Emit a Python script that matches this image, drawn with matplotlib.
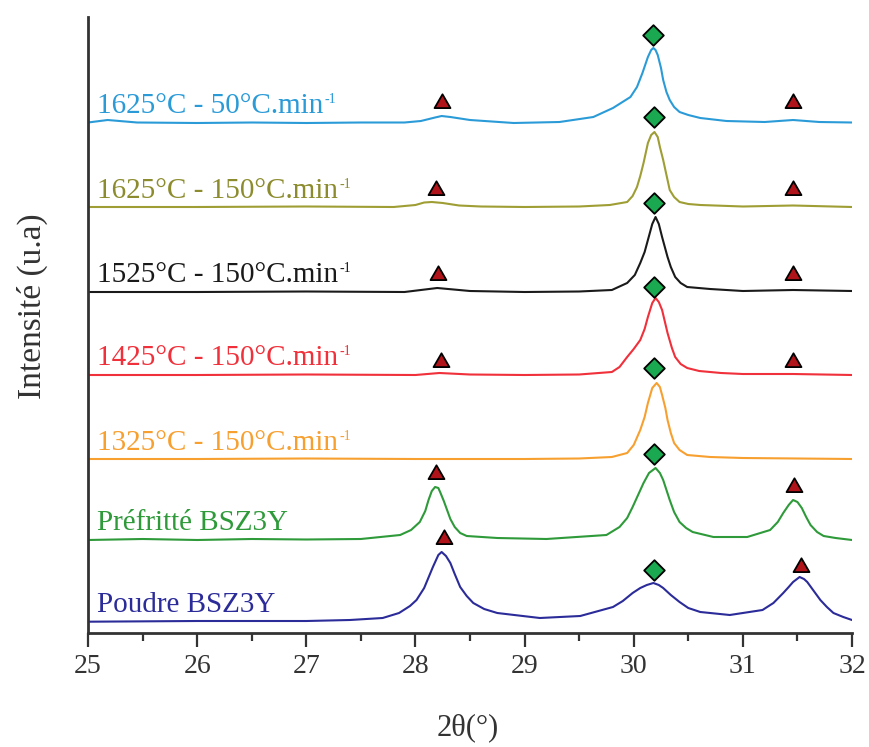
import matplotlib
matplotlib.use("Agg")
import matplotlib.pyplot as plt

plt.rcParams["font.family"] = ["Liberation Serif", "DejaVu Serif"]

# --- data (2theta in deg, intensity in stacked a.u.) ---
blue_x = [25.00, 25.18, 25.45, 26.0, 26.5, 27.0, 27.5, 27.9, 28.05, 28.18, 28.24, 28.32, 28.5, 28.9,
          29.32, 29.63, 29.81, 29.97, 30.03, 30.08, 30.13, 30.16, 30.18, 30.20, 30.22, 30.25, 30.27,
          30.30, 30.33, 30.37, 30.42, 30.50, 30.61, 30.85, 31.2, 31.46, 31.7, 32.0]
blue_y = [510.5, 513, 510.5, 510, 510.5, 510, 510.5, 510.5, 512, 515.5, 517, 516, 513, 510,
          511, 516, 525, 536, 546, 560, 576, 583, 585, 583, 578, 565, 553,
          541, 533, 526, 521, 518, 515, 512, 511, 513, 511, 510.5]

olive_x = [25.0, 26.0, 27.0, 27.8, 28.0, 28.08, 28.15, 28.25, 28.4, 28.6, 29.0, 29.5, 29.78, 29.94,
           29.99, 30.03, 30.06, 30.09, 30.13, 30.16, 30.19, 30.22, 30.24, 30.27, 30.29, 30.33,
           30.37, 30.42, 30.50, 30.61, 31.0, 31.46, 32.0]
olive_y = [426, 426, 426.5, 426, 428, 430.5, 431, 430, 427.5, 426.5, 426, 426.5, 428, 431,
           437, 446, 457, 470, 490, 498, 501, 496, 486, 473, 463, 443,
           436, 431, 429, 428, 426.5, 427.5, 426]

black_x = [25.0, 26.0, 27.0, 27.9, 28.2, 28.5, 29.0, 29.5, 29.8, 29.94, 30.01, 30.06, 30.10, 30.13,
           30.17, 30.20, 30.23, 30.26, 30.31, 30.34, 30.38, 30.43, 30.49, 30.70, 31.0, 31.46, 32.0]
black_y = [341, 341, 341.5, 341, 345, 342, 341, 341.5, 343, 350, 358, 370, 381, 393,
           409, 416, 409, 396, 376, 366, 356, 350, 346, 344, 342, 343, 342]

red_x = [25.0, 26.0, 27.0, 28.0, 28.22, 28.5, 29.0, 29.5, 29.8, 29.87, 29.94, 30.0, 30.06, 30.10,
         30.13, 30.17, 30.20, 30.23, 30.26, 30.31, 30.35, 30.38, 30.43, 30.49, 30.6, 30.80, 31.0,
         31.46, 32.0]
red_y = [258, 258, 258.5, 258, 260, 258.5, 258, 258.5, 261, 266, 276, 284, 293, 304,
         316, 330, 335, 331, 323, 300, 285, 276, 269, 265, 262, 260, 259,
         259, 258]

orange_x = [25.0, 26.0, 27.0, 28.0, 29.0, 29.5, 29.8, 29.94, 30.0, 30.06, 30.10, 30.13, 30.17,
            30.21, 30.24, 30.26, 30.29, 30.31, 30.34, 30.37, 30.42, 30.49, 30.70, 31.0, 32.0]
orange_y = [174, 174, 174.5, 174, 174, 174.5, 176, 180, 188, 203, 216, 230, 245,
            250, 246, 238, 225, 213, 200, 190, 183, 178, 176, 175, 174]

green_x = [25.0, 25.5, 26.0, 26.5, 27.0, 27.5, 27.86, 27.96, 28.04, 28.09, 28.12, 28.15, 28.18,
           28.21, 28.23, 28.26, 28.29, 28.32, 28.36, 28.41, 28.47, 28.75, 29.2, 29.75, 29.87,
           29.94, 29.99, 30.04, 30.09, 30.14, 30.20, 30.24, 30.27, 30.30, 30.33, 30.37, 30.42,
           30.48, 30.54, 30.73, 31.04, 31.25, 31.32, 31.37, 31.42, 31.46, 31.50, 31.54, 31.58,
           31.62, 31.68, 31.74, 31.85, 32.0]
green_y = [93, 94, 93, 94, 93.5, 94, 98, 103, 111, 122, 133, 142, 146,
           145, 140, 132, 123, 114, 106, 100, 97, 95, 94, 98, 106,
           115, 126, 138, 150, 160, 165, 160, 153, 143, 133, 121, 111,
           105, 101, 96, 96, 103, 111, 120, 128, 133, 131, 125, 116,
           108, 101, 97, 95, 93]

navy_x = [25.0, 26.0, 27.0, 27.4, 27.7, 27.85, 27.95, 28.01, 28.08, 28.16, 28.21, 28.24, 28.28,
          28.32, 28.36, 28.41, 28.47, 28.53, 28.63, 28.75, 29.14, 29.51, 29.81, 29.90, 29.99,
          30.06, 30.12, 30.18, 30.23, 30.27, 30.34, 30.42, 30.50, 30.61, 30.88, 31.18, 31.28,
          31.37, 31.42, 31.46, 31.52, 31.56, 31.59, 31.65, 31.71, 31.77, 31.83, 31.92, 32.0]
navy_y = [11.3, 12, 12, 13, 15, 20, 27, 33, 45, 66, 78, 81, 77,
          70, 59, 46, 37, 30, 24, 20, 15, 17, 26, 32, 40,
          45, 48, 50, 48, 45, 38, 31, 25, 21, 18, 23, 30,
          40, 46, 51, 56, 54, 51, 42, 33, 26, 20, 16, 13]

labels = ["1625°C - 50°C.min", "1625°C - 150°C.min", "1525°C - 150°C.min",
          "1425°C - 150°C.min", "1325°C - 150°C.min", "Préfritté BSZ3Y", "Poudre BSZ3Y"]
label_y = [520, 435, 351, 268, 183, 103, 21]
colors = ["#2b9bd8", "#9e9e35", "#1a1a1a", "#f0303a", "#f7a030", "#2e9a3a", "#2b2b99"]
label_colors = ["#2b9bd8", "#8c8c2e", "#1a1a1a", "#f0303a", "#f7a030", "#2e9a3a", "#2b2b99"]

# phase markers
diamond_x = [30.18, 30.19, 30.19, 30.19, 30.19, 30.19, 30.19]
diamond_y = [598, 516, 430, 346, 265, 179, 63]
tri_x = [28.24, 31.46, 28.19, 31.46, 28.21, 31.46, 28.23, 31.46, 28.19, 31.47, 28.26, 31.53]
tri_y = [530, 530, 443, 443, 358, 358, 271, 271, 159, 146, 94, 66]

series = [(blue_x, blue_y), (olive_x, olive_y), (black_x, black_y), (red_x, red_y),
          (orange_x, orange_y), (green_x, green_y), (navy_x, navy_y)]

fig = plt.figure(figsize=(8.7, 7.47), dpi=100)
ax = fig.add_axes([88 / 870, 1 - 633 / 747, (852 - 88) / 870, (633 - 17) / 747])

for (xs, ys), col in zip(series, colors):
    ax.plot(xs, ys, color=col, lw=1.5, zorder=2)

for lab, ly, col in zip(labels, label_y, label_colors):
    t = ax.text(25.08, ly, lab, color=col, fontsize=21, va="baseline", ha="left")
    if "BSZ3Y" not in lab:
        # small "-1" exponent after "min"
        ax.annotate("-1", xy=(1.0, 1.0), xycoords=t, xytext=(1, 0), textcoords="offset points",
                    color=col, fontsize=10, ha="left", va="top")

ax.scatter(diamond_x, diamond_y, marker="D", s=110, color="#1aa850",
           edgecolor="black", linewidth=1.3, zorder=4)
ax.scatter(tri_x, tri_y, marker=(3, 0, 0), s=175, color="#b0141a",
           edgecolor="black", linewidth=1.3, zorder=4)

ax.set_xlim(25, 32)
ax.set_ylim(0, 616)
ax.set_xticks(range(25, 33))
ax.set_xticks([25.5 + i for i in range(7)], minor=True)
ax.set_yticks([])
for s in ["top", "right"]:
    ax.spines[s].set_visible(False)
for s in ["left", "bottom"]:
    ax.spines[s].set_linewidth(2)
    ax.spines[s].set_color("#333333")
ax.tick_params(axis="x", which="major", direction="out", length=10, width=1.6,
               colors="#333333", labelsize=20, pad=5)
ax.tick_params(axis="x", which="minor", direction="out", length=5.5, width=1.6, colors="#333333")

fig.text(468 / 870, 1 - 728 / 747, "2θ(°)", fontsize=22, ha="center", va="center", color="#333333")
fig.text(32 / 870, 1 - 306 / 747, "Intensité (u.a)", fontsize=24, rotation=90,
         ha="center", va="center", color="#333333")

plt.savefig("out.png", dpi=100)
plt.close()
